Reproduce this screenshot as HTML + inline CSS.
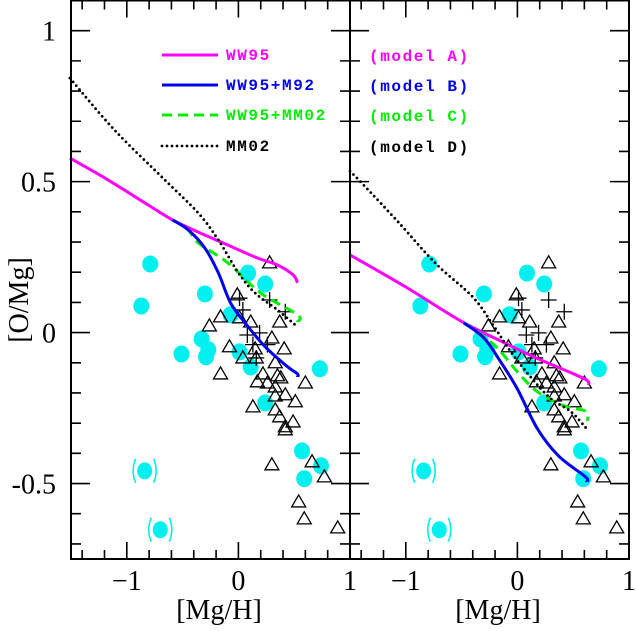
<!DOCTYPE html>
<html><head><meta charset="utf-8"><style>
html,body{margin:0;padding:0;background:#fff;}
svg{display:block;}
.tl{font-family:"Liberation Serif",serif;font-size:28px;fill:#000;}
.lg{font-family:"Liberation Mono",monospace;font-size:16px;font-weight:bold;letter-spacing:1.6px;}
</style></head><body>
<svg id="chart" width="636" height="631" viewBox="0 0 636 631" xmlns="http://www.w3.org/2000/svg">
<g id="g"></g>
</svg>
<script>
// ---- data ----
const circX=[0.086,0.24,-0.30,-0.07,-0.33,-0.27,-0.29,-0.51,0.01,0.11,0.24,0.73,-0.79,-0.87,0.57,0.74,0.59];
const circY=[0.197,0.161,0.128,0.059,-0.021,-0.057,-0.080,-0.071,-0.064,-0.114,-0.233,-0.120,0.227,0.088,-0.392,-0.441,-0.484];
const bracX=[-0.84,-0.70];
const bracY=[-0.458,-0.653];
const triX=[0.28,-0.01,-0.16,-0.26,0.01,0.11,0.37,0.30,-0.08,0.41,0.15,0.04,0.16,0.33,-0.16,0.22,0.17,0.26,0.35,0.38,0.33,0.60,0.33,0.42,0.51,0.13,0.33,0.37,0.49,0.42,0.42,0.30,0.66,0.77,0.54,0.59,0.89];
const triY=[0.231,0.125,0.052,0.022,0.049,0.035,0.035,-0.018,-0.047,-0.054,-0.054,-0.084,-0.084,-0.100,-0.137,-0.137,-0.163,-0.167,-0.143,-0.150,-0.180,-0.167,-0.210,-0.206,-0.229,-0.246,-0.256,-0.279,-0.296,-0.312,-0.322,-0.438,-0.428,-0.478,-0.561,-0.617,-0.647];
const crossX=[0.01,0.04,0.08,0.19,0.13,0.26,0.28,0.42,0.16];
const crossY=[0.114,0.075,-0.008,-0.001,-0.040,-0.040,0.108,0.069,-0.084];
// left panel models
const magLX=[-1.51,-1.17,-0.81,-0.59,-0.36,-0.095,0.17,0.35,0.49,0.53];
const magLY=[0.578,0.506,0.423,0.373,0.333,0.290,0.247,0.224,0.191,0.165];
const bluLX=[-0.59,-0.45,-0.30,-0.18,-0.07,0.06,0.24,0.44,0.53,0.53];
const bluLY=[0.373,0.34,0.28,0.198,0.098,0.032,-0.047,-0.113,-0.137,-0.147];
const grnLX=[-0.59,-0.45,-0.36,-0.095,0.20,0.53,0.53];
const grnLY=[0.373,0.34,0.297,0.231,0.131,0.059,0.035];
const blkLX=[-1.51,-1.11,-0.66,-0.36,-0.18,0,0.15,0.35,0.53];
const blkLY=[0.843,0.671,0.506,0.396,0.307,0.198,0.131,0.075,0.019];
// right panel models
const magRX=[-1.50,-1.0,-0.51,-0.15,0.15,0.46,0.62,0.64];
const magRY=[0.257,0.151,0.039,-0.028,-0.081,-0.130,-0.157,-0.173];
const bluRX=[-0.48,-0.30,-0.15,0,0.18,0.37,0.61,0.62];
const bluRY=[0.032,-0.018,-0.097,-0.187,-0.319,-0.409,-0.478,-0.495];
const grnRX=[-0.48,-0.37,-0.18,0,0.18,0.42,0.61,0.63];
const grnRY=[0.032,0.006,-0.051,-0.130,-0.196,-0.243,-0.260,-0.293];
const blkRX=[-1.50,-1.37,-1.06,-0.73,-0.40,-0.22,-0.06,0.13,0.30,0.48,0.62];
const blkRY=[0.535,0.486,0.363,0.228,0.118,0.026,-0.063,-0.152,-0.219,-0.262,-0.318];
const xTicks=[-1,0,1];
const xTickLabels=["\u22121","0","1"];
const yTicks=[1,0.5,0,-0.5];
const yTickLabels=["1","0.5","0","-0.5"];
const legendNames=["WW95","WW95+M92","WW95+MM02","MM02"];
const modelNames=["(model A)","(model B)","(model C)","(model D)"];

// ---- geometry ----
const NS="http://www.w3.org/2000/svg";
const g=document.getElementById('g');
const XMIN=-1.5,XMAX=1,YMIN=-0.75,YMAX=1.1;
const TOP=0.5,BOT=559,PW=279;
const panels=[{x0:71},{x0:350}];
function sx(p,v){return panels[p].x0+(v-XMIN)/(XMAX-XMIN)*PW;}
function sy(v){return BOT-(v-YMIN)/(YMAX-YMIN)*(BOT-TOP);}
function el(tag,attrs,parent){const e=document.createElementNS(NS,tag);for(const k in attrs)e.setAttribute(k,attrs[k]);(parent||g).appendChild(e);return e;}
const colors={mag:"#ff00ff",blu:"#0000ee",grn:"#00ee00",blk:"#000"};

function line(p,xs,ys,col,dash,w,name){
  const P=xs.map((x,i)=>[sx(p,x),sy(ys[i])]);
  let d="M"+P[0][0].toFixed(1)+","+P[0][1].toFixed(1);
  for(let i=0;i<P.length-1;i++){
    const p0=P[Math.max(0,i-1)],p1=P[i],p2=P[i+1],p3=P[Math.min(P.length-1,i+2)];
    const c1=[p1[0]+(p2[0]-p0[0])/6,p1[1]+(p2[1]-p0[1])/6];
    const c2=[p2[0]-(p3[0]-p1[0])/6,p2[1]-(p3[1]-p1[1])/6];
    d+=`C${c1[0].toFixed(1)},${c1[1].toFixed(1)} ${c2[0].toFixed(1)},${c2[1].toFixed(1)} ${p2[0].toFixed(1)},${p2[1].toFixed(1)}`;
  }
  const e=el('path',{d:d,fill:"none",stroke:col,"stroke-width":w,"stroke-linejoin":"round","stroke-linecap":dash==="dot"?"round":"butt"});
  if(dash==="dash")e.setAttribute('stroke-dasharray','10,6');
  if(dash==="dot"){e.setAttribute('stroke-dasharray','0,5');}
  
  
}

for(let p=0;p<2;p++){
  const pg=el('g',{});
  
  
  circX.forEach((x,i)=>{
    const c=el('ellipse',{cx:sx(p,x),cy:sy(circY[i]),rx:8,ry:8.5,fill:"#00f0f0"},pg);
    
    
  });
  bracX.forEach((x,i)=>{
    const cx=sx(p,x),cy=sy(bracY[i]);
    const c=el('ellipse',{cx:cx,cy:cy,rx:7.5,ry:8.5,fill:"#00f0f0"},pg);
    
    
    const b=el('path',{d:`M${cx-9},${cy-12}Q${cx-14},${cy} ${cx-9},${cy+12}M${cx+9},${cy-12}Q${cx+14},${cy} ${cx+9},${cy+12}`,fill:"none",stroke:"#00f0f0","stroke-width":1.6},pg);
    
    
  });
  triX.forEach((x,i)=>{
    const cx=sx(p,x),cy=sy(triY[i]);
    const t=el('path',{d:`M${cx},${cy-7}L${cx+7},${cy+5}L${cx-7},${cy+5}Z`,fill:"none",stroke:"#000","stroke-width":1.3},pg);
    
    
  });
  crossX.forEach((x,i)=>{
    const cx=sx(p,x),cy=sy(crossY[i]);
    const t=el('path',{d:`M${cx-8},${cy}H${cx+8}M${cx},${cy-8}V${cy+8}`,fill:"none",stroke:"#000","stroke-width":1.3},pg);
    
    
  });
}
line(0,magLX,magLY,colors.mag,null,3,'ww95-line');
line(0,grnLX,grnLY,colors.grn,"dash",3,'ww95-mm02-line');
line(0,blkLX,blkLY,colors.blk,"dot",2.8,'mm02-line');
line(0,bluLX,bluLY,colors.blu,null,3,'ww95-m92-line');
line(1,magRX,magRY,colors.mag,null,3,'model-a-line');
line(1,grnRX,grnRY,colors.grn,"dash",3,'model-c-line');
line(1,blkRX,blkRY,colors.blk,"dot",2.8,'model-d-line');
line(1,bluRX,bluRY,colors.blu,null,3,'model-b-line');

for(let p=0;p<2;p++){
  const x0=panels[p].x0,x1=x0+PW;
  const f=el('rect',{x:x0,y:TOP,width:PW,height:BOT-TOP,fill:"none",stroke:"#000","stroke-width":2});
  
  
  let d="";
  for(let k=-15;k<=10;k++){const X=sx(p,k/10);const len=(k%10===0)?17:(k%2===0?9:0);if(!len)continue;d+=`M${X},${BOT}v${-len}M${X},${TOP}v${len}`;}
  for(let k=-7;k<=11;k++){const Y=sy(k/10);const len=(k%5===0)?19:10;d+=`M${x0},${Y}h${len}M${x1},${Y}h${-len}`;}
  const t=el('path',{d:d,stroke:"#000","stroke-width":1.6,fill:"none"});
  
  
  xTicks.forEach((v,i)=>{
    const tx=el('text',{x:sx(p,v),y:590,"text-anchor":"middle",class:"tl"});
    tx.textContent=xTickLabels[i];
    
    
  });
  const xl=el('text',{x:x0+148,y:619,"text-anchor":"middle",class:"tl"});
  xl.textContent="[Mg/H]";
  
  
}
yTicks.forEach((v,i)=>{
  const t=el('text',{x:56,y:sy(v)+10,"text-anchor":"end",class:"tl"});
  t.textContent=yTickLabels[i];
  
  
});
const yl=el('text',{x:0,y:0,"text-anchor":"middle",class:"tl",transform:"translate(28,300) rotate(-90)"});
yl.textContent="[O/Mg]";



const lgCols=[colors.mag,colors.blu,colors.grn,colors.blk];
const lgStyles=[null,null,"dash","dot"];
const lgY=[55,85,115,146];
legendNames.forEach((n,i)=>{
  const lg=el('g',{});
  
  
  const l=el('line',{x1:162,x2:218,y1:lgY[i],y2:lgY[i],stroke:lgCols[i],"stroke-width":lgStyles[i]==="dot"?2.8:3,"stroke-linecap":lgStyles[i]==="dot"?"round":"butt"},lg);
  if(lgStyles[i]==="dash")l.setAttribute('stroke-dasharray','10,6');
  if(lgStyles[i]==="dot")l.setAttribute('stroke-dasharray','0,5');
  const t=el('text',{x:226,y:lgY[i]+5,fill:lgCols[i],class:"lg"},lg);
  t.textContent=n;
  const m=el('text',{x:369,y:lgY[i]+6,fill:lgCols[i],class:"lg"},lg);
  m.textContent=modelNames[i];
});
</script>
</body></html>
